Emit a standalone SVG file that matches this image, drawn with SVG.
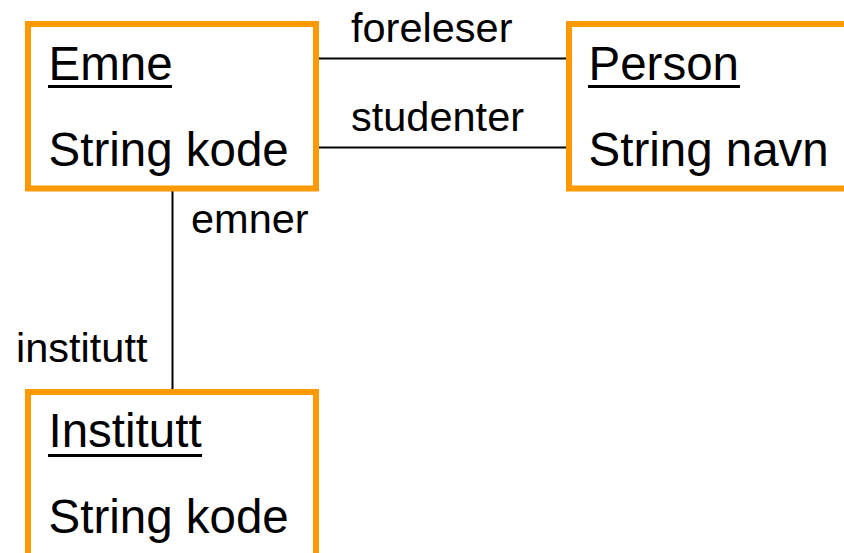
<svg xmlns="http://www.w3.org/2000/svg" width="844" height="553" viewBox="0 0 844 553">
<style>
.box{fill:#fff;stroke:#FF9900;stroke-width:6}
.t{font-family:"Liberation Sans",Arial,sans-serif;font-size:47.5px;fill:#000}
.lbl{font-family:"Liberation Sans",Arial,sans-serif;font-size:41.5px;fill:#000}
.c{stroke:#000;stroke-width:2;fill:none}
</style>
<rect width="844" height="553" fill="#fff"/>
<g id="connectors">
<line class="c" x1="316" y1="58.5" x2="569" y2="58.5"/>
<line class="c" x1="316" y1="147.5" x2="569" y2="147.5"/>
<line class="c" x1="172.5" y1="188" x2="172.5" y2="392"/>
<text class="lbl" x="351" y="42">foreleser</text>
<text class="lbl" x="351" y="131">studenter</text>
<text class="lbl" x="191" y="233">emner</text>
<text class="lbl" x="16" y="362">institutt</text>
</g>
<g id="emne">
<rect class="box" x="28" y="24" width="288" height="164.5"/>
<text class="t" x="48.5" y="80">Emne</text>
<rect x="48" y="85" width="124" height="3" fill="#000"/>
<text class="t" x="48.5" y="166">String kode</text>
</g>
<g id="person">
<rect class="box" x="569" y="24" width="290" height="164.5"/>
<text class="t" x="588.5" y="80">Person</text>
<rect x="588" y="85" width="152" height="3" fill="#000"/>
<text class="t" x="588.5" y="166">String navn</text>
</g>
<g id="institutt">
<rect class="box" x="28" y="392" width="288" height="180"/>
<text class="t" x="48.5" y="447">Institutt</text>
<rect x="48" y="454" width="154" height="3" fill="#000"/>
<text class="t" x="48.5" y="533">String kode</text>
</g>
</svg>
